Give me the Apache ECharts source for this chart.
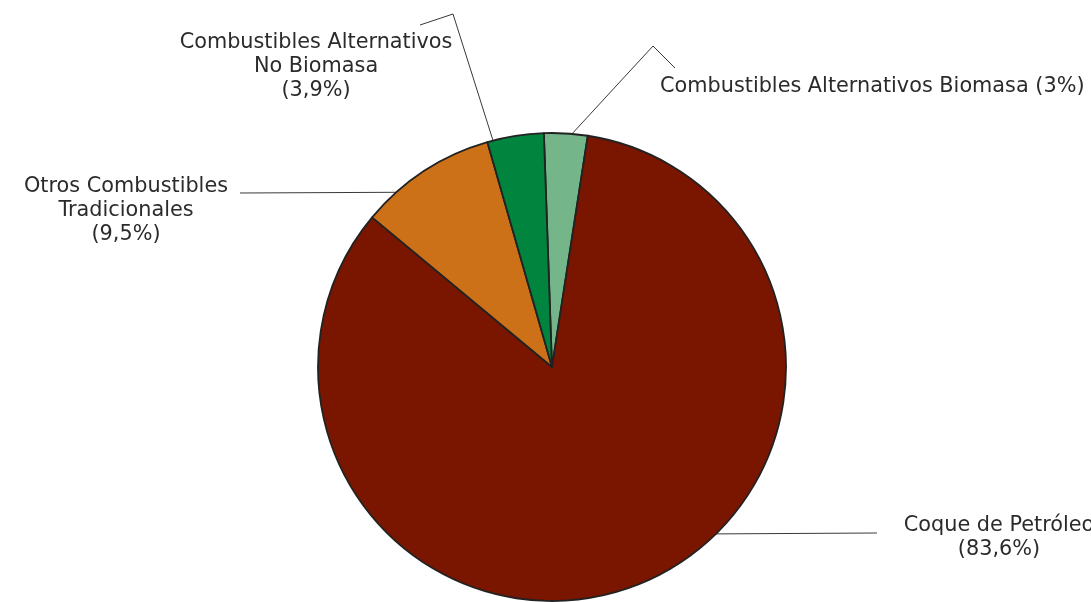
<!DOCTYPE html>
<html>
<head>
<meta charset="utf-8">
<script src="https://cdn.jsdelivr.net/npm/echarts@6/dist/echarts.min.js"></script>
<style>
  html, body { margin: 0; padding: 0; background: #ffffff; }
  #chart { width: 1091px; height: 602px; }
</style>
</head>
<body>
<div id="chart"></div>
<script>
// Fuel mix shares (%), listed clockwise from the top of the pie
const categories = [
  'Combustibles Alternativos Biomasa',
  'Coque de Petróleo',
  'Otros Combustibles Tradicionales',
  'Combustibles Alternativos No Biomasa'
];
const shares = [3.0, 83.6, 9.5, 3.9];
const labelTexts = [
  'Combustibles Alternativos Biomasa (3%)',
  'Coque de Petróleo\n(83,6%)',
  'Otros Combustibles\nTradicionales\n(9,5%)',
  'Combustibles Alternativos\nNo Biomasa\n(3,9%)'
];
const colors = ['#74b68a', '#7a1600', '#cd7118', '#00843e'];

// Pie geometry (px)
const CX = 552, CY = 367, R = 234;

// Leader lines: angle (deg clockwise from top) where each one leaves the rim,
// then its elbow / end points, plus where the text block sits.
const leaders = [
  { angle: 4.9,   pts: [[653, 46], [675, 68]],  x: 660, y: 87,  align: 'left' },
  { angle: 135.5, pts: [[877, 533]],            x: 999, y: 538, align: 'center' },
  { angle: -41.7, pts: [[240, 193]],            x: 126, y: 211, align: 'center' },
  { angle: -14.6, pts: [[453, 14], [420, 25]],  x: 316, y: 67,  align: 'center' }
];

function rimPoint(deg) {
  const a = deg * Math.PI / 180;
  return [CX + R * Math.sin(a), CY - R * Math.cos(a)];
}

const chart = echarts.init(document.getElementById('chart'), null, { renderer: 'canvas' });

chart.setOption({
  backgroundColor: '#ffffff',
  animation: false,
  series: [{
    type: 'pie',
    center: [CX, CY],
    radius: R,
    startAngle: 92,
    clockwise: true,
    avoidLabelOverlap: false,
    data: categories.map((name, i) => ({
      name: name,
      value: shares[i],
      itemStyle: { color: colors[i] }
    })),
    itemStyle: { borderColor: '#222222', borderWidth: 1.8 },
    emphasis: { disabled: true },
    label: {
      show: true,
      position: 'outside',
      formatter: p => labelTexts[p.dataIndex],
      fontFamily: 'DejaVu Sans',
      fontSize: 20.8,
      lineHeight: 24,
      color: '#2b2b2b',
      align: 'center'
    },
    labelLine: {
      show: true,
      lineStyle: { color: '#3a3a3a', width: 1 }
    },
    labelLayout: function (params) {
      const L = leaders[params.dataIndex];
      return {
        x: L.x,
        y: L.y,
        align: L.align,
        verticalAlign: 'middle',
        labelLinePoints: [rimPoint(L.angle)].concat(L.pts)
      };
    }
  }]
});
</script>
</body>
</html>
